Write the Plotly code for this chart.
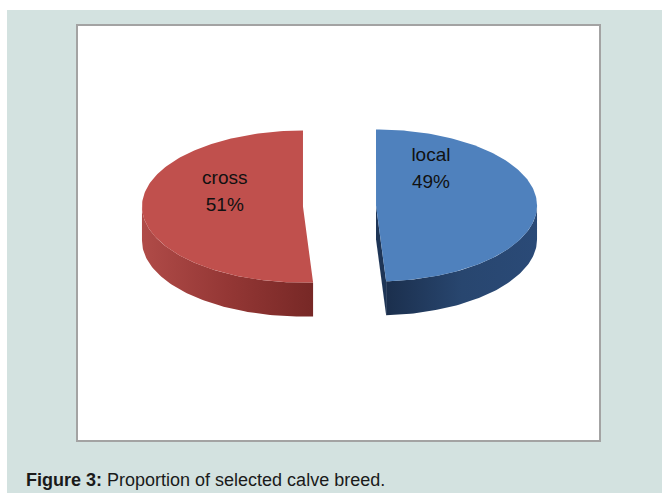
import numpy as np
import plotly.graph_objects as go

# ---- data ----
categories = ["local", "cross"]
values = [49, 51]

# ---- styles / geometry (pixel space) ----
W, H = 662, 494
CX, CY = 339.5, 206.0        # pie centre (top face)
A, B = 161.0, 76.0           # ellipse semi-axes
DEPTH = 34.0                 # pie thickness
EXPLODE = 0.227              # explode fraction of radius
top_colors = ["#4F81BD", "#C0504D"]
side_scales = [
    [[0, "#1b2f4d"], [0.5, "#28466f"], [1, "#2a4a77"]],
    [[0, "#b04b48"], [0.5, "#943735"], [1, "#772826"]],
]
cut_colors = ["#1e3556", "#7a2a28"]
label_polar = [(0.58, 36.0), (0.52, 291.0)]  # (radius fraction, angle) of label centre

fig = go.Figure()


def pt(theta, cx, cy, r=1.0):
    t = np.radians(theta)
    return cx + r * A * np.sin(t), cy - r * B * np.cos(t)


total = float(sum(values))
start = 0.0
slices = []
for i, v in enumerate(values):
    th1 = start
    th2 = start + 360.0 * v / total
    start = th2
    mid = (th1 + th2) / 2
    dx = EXPLODE * A * np.sin(np.radians(mid))
    dy = -EXPLODE * B * np.cos(np.radians(mid))
    slices.append((i, th1, th2, CX + dx, CY + dy))

# sides and cut faces
for i, th1, th2, cx, cy in slices:
    lo, hi = max(th1, 90.0), min(th2, 270.0)
    if hi > lo:
        ts = np.linspace(lo, hi, 80)
        xt, yt = pt(ts, cx, cy)
        xs = np.concatenate([xt, xt[::-1]])
        ys = np.concatenate([yt, (yt + DEPTH)[::-1]])
        fig.add_trace(go.Scatter(
            x=xs, y=ys, mode="lines", fill="toself", line=dict(width=0),
            fillgradient=dict(type="horizontal", colorscale=side_scales[i]),
            hoverinfo="skip", showlegend=False))
    for th, phi in ((th1, th1 - 90.0), (th2, th2 + 90.0)):
        if np.cos(np.radians(phi)) < -1e-6:
            ex, ey = pt(th, cx, cy)
            fig.add_trace(go.Scatter(
                x=[cx, ex, ex, cx, cx], y=[cy, ey, ey + DEPTH, cy + DEPTH, cy],
                mode="lines", fill="toself", line=dict(width=0),
                fillcolor=cut_colors[i], hoverinfo="skip", showlegend=False))

# top faces
for i, th1, th2, cx, cy in slices:
    ts = np.linspace(th1, th2, 160)
    xt, yt = pt(ts, cx, cy)
    xs = np.concatenate([[cx], xt, [cx]])
    ys = np.concatenate([[cy], yt, [cy]])
    fig.add_trace(go.Scatter(
        x=xs, y=ys, mode="lines", fill="toself", line=dict(width=0),
        fillcolor=top_colors[i], hoverinfo="skip", showlegend=False))

# labels
lx, ly, lt = [], [], []
for (i, th1, th2, cx, cy), cat, v in zip(slices, categories, values):
    r, ang = label_polar[i]
    x0, y0 = pt(ang, cx, cy, r)
    pct = f"{round(v / total * 100)}%"
    lx += [x0, x0]
    ly += [y0 - 13.5, y0 + 13.5]
    lt += [cat, pct]
fig.add_trace(go.Scatter(
    x=lx, y=ly, text=lt, mode="text",
    textfont=dict(family="Liberation Sans, Arial, sans-serif", size=19, color="#111111"),
    hoverinfo="skip", showlegend=False))

fig.update_layout(
    width=W, height=H, autosize=False,
    margin=dict(l=0, r=0, t=0, b=0),
    paper_bgcolor="white", plot_bgcolor="rgba(0,0,0,0)",
    xaxis=dict(range=[0, W], visible=False, fixedrange=True),
    yaxis=dict(range=[H, 0], visible=False, fixedrange=True),
    shapes=[
        dict(type="rect", xref="x", yref="y", x0=7, y0=10, x1=W, y1=493,
             fillcolor="#d3e2e0", line=dict(width=0), layer="below"),
        dict(type="rect", xref="x", yref="y", x0=77, y0=25, x1=600, y1=441,
             fillcolor="white", line=dict(width=2, color="#a3a3a3"), layer="below"),
    ],
    annotations=[
        dict(text="<b>Figure 3:</b> Proportion of selected calve breed.",
             xref="x", yref="y", x=24, y=480, xanchor="left", yanchor="middle",
             showarrow=False,
             font=dict(family="Liberation Sans, Arial, sans-serif", size=18, color="#1a1a1a")),
    ],
)

fig.write_html("out.html")
